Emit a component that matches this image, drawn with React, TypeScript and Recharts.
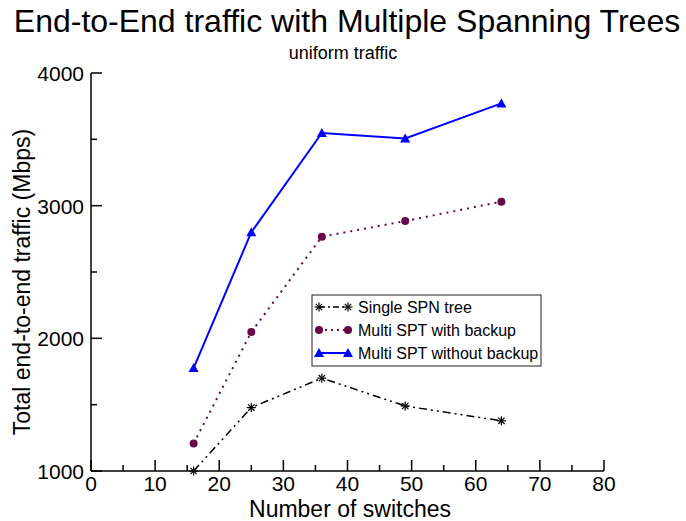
import { LineChart, Line, XAxis, YAxis } from "recharts";

// number of switches per topology
const switches = [16, 25, 36, 49, 64];
const singleTree = [1000, 1478, 1700, 1490, 1378];
const multiWithBackup = [1207, 2047, 2766, 2884, 3030];
const multiWithoutBackup = [1776, 2800, 3548, 3507, 3771];

const seriesNames = ["Single SPN tree", "Multi SPT with backup", "Multi SPT without backup"];
const xTicks = [0, 5, 10, 15, 20, 25, 30, 35, 40, 45, 50, 55, 60, 65, 70, 75, 80];
const yTicks = [1000, 1500, 2000, 2500, 3000, 3500, 4000];

const chartData = switches.map((n, i) => ({
  n,
  single: singleTree[i],
  withBackup: multiWithBackup[i],
  withoutBackup: multiWithoutBackup[i],
}));

const FONT = "'Liberation Sans', Arial, Helvetica, sans-serif";
const BLUE = "#0000ff";
const MAROON = "#670748";

const isMajorX = (v: number) => v % 10 === 0;
const isMajorY = (v: number) => v % 1000 === 0;

function BottomTick({ x, y, payload }: any) {
  const major = isMajorX(payload.value);
  return (
    <g>
      <line x1={x} y1={y} x2={x} y2={y - (major ? 11 : 6)} stroke="#000" strokeWidth={1.5} />
      {major && (
        <text x={x} y={y + 20} textAnchor="middle" fontSize={21} fontFamily={FONT} fill="#000">
          {payload.value}
        </text>
      )}
    </g>
  );
}

function TopTick({ x, y, payload }: any) {
  const major = isMajorX(payload.value);
  return <line x1={x} y1={y} x2={x} y2={y + (major ? 11 : 6)} stroke="#000" strokeWidth={1.5} />;
}

function LeftTick({ x, y, payload }: any) {
  const major = isMajorY(payload.value);
  return (
    <g>
      <line x1={x} y1={y} x2={x + (major ? 11 : 6)} y2={y} stroke="#000" strokeWidth={1.5} />
      {major && (
        <text x={x - 7} y={y + 8} textAnchor="end" fontSize={21} fontFamily={FONT} fill="#000">
          {payload.value}
        </text>
      )}
    </g>
  );
}

function RightTick({ x, y, payload }: any) {
  const major = isMajorY(payload.value);
  return <line x1={x} y1={y} x2={x - (major ? 11 : 6)} y2={y} stroke="#000" strokeWidth={1.5} />;
}

function StarDot({ cx, cy }: any) {
  if (cx == null || cy == null) return null;
  const r = 4.5;
  const d = r * 0.707;
  return (
    <g stroke="#000" strokeWidth={1.2}>
      <line x1={cx - r} y1={cy} x2={cx + r} y2={cy} />
      <line x1={cx} y1={cy - r} x2={cx} y2={cy + r} />
      <line x1={cx - d} y1={cy - d} x2={cx + d} y2={cy + d} />
      <line x1={cx - d} y1={cy + d} x2={cx + d} y2={cy - d} />
    </g>
  );
}

function CircleDot({ cx, cy }: any) {
  if (cx == null || cy == null) return null;
  return <circle cx={cx} cy={cy} r={4} fill={MAROON} stroke="none" />;
}

function TriangleDot({ cx, cy }: any) {
  if (cx == null || cy == null) return null;
  const s = 5;
  return <polygon points={`${cx},${cy - s} ${cx - s},${cy + s * 0.8} ${cx + s},${cy + s * 0.8}`} fill={BLUE} />;
}

function LegendBox() {
  const rows = [
    { name: seriesNames[0], stroke: "#000", dash: "6 3 2 3", Mark: StarDot, width: 1.5 },
    { name: seriesNames[1], stroke: MAROON, dash: "2 4", Mark: CircleDot, width: 2 },
    { name: seriesNames[2], stroke: BLUE, dash: undefined, Mark: TriangleDot, width: 2 },
  ];
  return (
    <svg width={232} height={74} style={{ position: "absolute", left: 311, top: 294 }}>
      <rect x={1} y={1} width={229} height={71} fill="#fff" stroke="#444" strokeWidth={1.2} />
      {rows.map((r, i) => {
        const y = 13 + i * 23;
        return (
          <g key={r.name}>
            <line x1={8} y1={y} x2={37} y2={y} stroke={r.stroke} strokeWidth={r.width} strokeDasharray={r.dash} />
            <r.Mark cx={8} cy={y} />
            <r.Mark cx={37} cy={y} />
            <text x={47} y={y + 6} fontSize={16} fontFamily={FONT} fill="#000">
              {r.name}
            </text>
          </g>
        );
      })}
    </svg>
  );
}

export default function App() {
  return (
    <div style={{ position: "absolute", left: 0, top: 0, width: 686, height: 521, background: "#fff", fontFamily: FONT }}>
      <div style={{ position: "absolute", left: 4, width: 686, top: 3, textAlign: "center", fontSize: 32, lineHeight: "36px", whiteSpace: "nowrap" }}>
        End-to-End traffic with Multiple Spanning Trees
      </div>
      <div style={{ position: "absolute", left: 0, width: 686, top: 43, textAlign: "center", fontSize: 18, lineHeight: "20px" }}>
        uniform traffic
      </div>
      <LineChart width={686} height={521} data={chartData} margin={{ top: 73, right: 82, bottom: 20, left: 31 }}>
        <XAxis
          xAxisId="bottom"
          dataKey="n"
          type="number"
          domain={[0, 80]}
          ticks={xTicks}
          interval={0}
          height={30}
          tickSize={0}
          tickMargin={0}
          tick={<BottomTick />}
          tickLine={false}
          axisLine={{ stroke: "#000", strokeWidth: 1.5 }}
        />
        <XAxis
          xAxisId="top"
          orientation="top"
          dataKey="n"
          type="number"
          domain={[0, 80]}
          ticks={xTicks}
          interval={0}
          height={0}
          tickSize={0}
          tickMargin={0}
          tick={<TopTick />}
          tickLine={false}
          axisLine={{ stroke: "#000", strokeWidth: 1.5 }}
        />
        <YAxis
          yAxisId="left"
          type="number"
          domain={[1000, 4000]}
          ticks={yTicks}
          interval={0}
          width={60}
          tickSize={0}
          tickMargin={0}
          tick={<LeftTick />}
          tickLine={false}
          axisLine={{ stroke: "#000", strokeWidth: 1.5 }}
        />
        <YAxis
          yAxisId="right"
          orientation="right"
          type="number"
          domain={[1000, 4000]}
          ticks={yTicks}
          interval={0}
          width={0}
          tickSize={0}
          tickMargin={0}
          tick={<RightTick />}
          tickLine={false}
          axisLine={{ stroke: "#000", strokeWidth: 1.5 }}
        />
        <Line
          xAxisId="bottom"
          yAxisId="left"
          dataKey="withoutBackup"
          name={seriesNames[2]}
          stroke={BLUE}
          strokeWidth={2}
          dot={<TriangleDot />}
          isAnimationActive={false}
        />
        <Line
          xAxisId="bottom"
          yAxisId="left"
          dataKey="withBackup"
          name={seriesNames[1]}
          stroke={MAROON}
          strokeWidth={2}
          strokeDasharray="2 5"
          dot={<CircleDot />}
          isAnimationActive={false}
        />
        <Line
          xAxisId="bottom"
          yAxisId="left"
          dataKey="single"
          name={seriesNames[0]}
          stroke="#000"
          strokeWidth={1.5}
          strokeDasharray="8 4 2 4 2 4"
          dot={<StarDot />}
          isAnimationActive={false}
        />
      </LineChart>
      <LegendBox />
      <div style={{ position: "absolute", left: 200, width: 300, top: 500, textAlign: "center", fontSize: 23, lineHeight: "18px", whiteSpace: "nowrap" }}>
        Number of switches
      </div>
      <div
        style={{
          position: "absolute",
          left: 22,
          top: 282,
          fontSize: 23,
          lineHeight: "26px",
          whiteSpace: "nowrap",
          transform: "translate(-50%, -50%) rotate(-90deg)",
        }}
      >
        Total end-to-end traffic (Mbps)
      </div>
    </div>
  );
}
